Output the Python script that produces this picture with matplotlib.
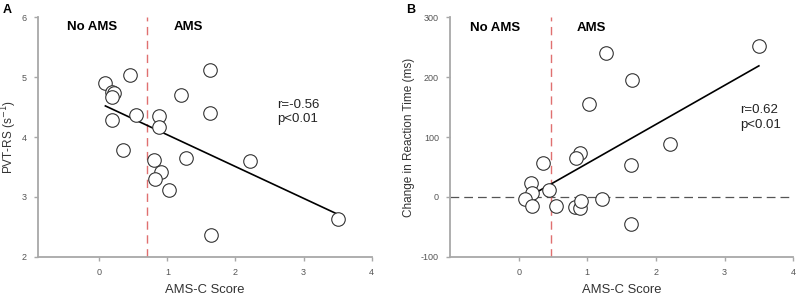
import numpy as np
import matplotlib
matplotlib.use("Agg")
import matplotlib.pyplot as plt

plt.rcParams['font.family'] = ['Liberation Sans', 'DejaVu Sans']
plt.rcParams['axes.unicode_minus'] = False

# panel A: AMS-C score vs PVT-RS
ams_a = [0.09, 0.19, 0.21, 0.19, 0.45, 0.19, 0.54, 0.35, 0.88, 0.88, 0.81,
         0.91, 0.82, 1.02, 1.20, 1.28, 1.62, 1.63, 1.64, 2.21, 3.51]
pvt = [4.90, 4.76, 4.74, 4.67, 5.03, 4.28, 4.36, 3.79, 4.35, 4.16, 3.61,
       3.42, 3.29, 3.12, 4.70, 3.65, 5.12, 4.41, 2.36, 3.60, 2.63]
fit_a_x = [0.09, 3.50]
fit_a_y = [4.52, 2.71]

# panel B: AMS-C score vs change in reaction time
ams_b = [3.50, 1.27, 1.65, 1.02, 2.20, 1.64, 0.89, 0.83, 0.36, 0.18, 0.19,
         0.44, 0.09, 0.20, 0.55, 0.82, 0.89, 0.91, 1.21, 1.63]
rt = [253, 240, 196, 155, 89, 54, 73, 65, 56, 23, 7,
      11, -4, -16, -15, -17, -19, -7, -3, -45]
fit_b_x = [0.22, 3.50]
fit_b_y = [5, 219]

spine_c = '#a8a8a8'
txt_c = '#555555'

fig = plt.figure(figsize=(8, 2.95), dpi=100)
axA = fig.add_axes([0.0475, 0.13, 0.417, 0.811])
axB = fig.add_axes([0.5625, 0.13, 0.429, 0.811])


def style(ax):
    for s in ['top', 'right']:
        ax.spines[s].set_visible(False)
    for s in ['left', 'bottom']:
        ax.spines[s].set_color(spine_c)
        ax.spines[s].set_linewidth(1.3)
    ax.tick_params(direction='out', length=3, width=1, color=spine_c,
                   labelsize=6.5, labelcolor=txt_c, pad=5)
    ax.set_xlabel('AMS-C Score', fontsize=9.4, color='#333333', labelpad=5)


# A
axA.axvline(0.70, color='#e07070', ls=(0, (6, 4)), lw=1)
axA.plot(fit_a_x, fit_a_y, color='black', lw=1.2)
axA.scatter(ams_a, pvt, s=95, facecolors='white', edgecolors='#333333',
            linewidths=0.8, zorder=3)
axA.set_xlim(-0.9, 4)
axA.set_ylim(2, 6)
axA.set_xticks([0, 1, 2, 3, 4])
axA.set_yticks([2, 3, 4, 5, 6])
axA.set_ylabel('PVT-RS (s$^{-1}$)', fontsize=8.5, color='#333333', labelpad=2)
axA.text(-0.11, 5.84, 'No AMS', fontsize=9.5, fontweight='bold', ha='center', va='center')
axA.text(1.31, 5.84, 'AMS', fontsize=9.5, fontweight='bold', ha='center', va='center')
axA.text(2.61, 4.53, 'r=-0.56', fontsize=9.5, va='center', color='#222222')
axA.text(2.61, 4.30, 'p<0.01', fontsize=9.5, va='center', color='#222222')
style(axA)

# B
axB.axhline(0, color='#555555', ls=(0, (7, 4)), lw=0.9)
axB.axvline(0.47, color='#e07070', ls=(0, (6, 4)), lw=1)
axB.plot(fit_b_x, fit_b_y, color='black', lw=1.2)
axB.scatter(ams_b, rt, s=95, facecolors='white', edgecolors='#333333',
            linewidths=0.8, zorder=3)
axB.set_xlim(-1.0, 4)
axB.set_ylim(-100, 300)
axB.set_xticks([0, 1, 2, 3, 4])
axB.set_yticks([-100, 0, 100, 200, 300])
axB.set_ylabel('Change in Reaction Time (ms)', fontsize=8.5, color='#333333')
axB.text(-0.35, 282, 'No AMS', fontsize=9.5, fontweight='bold', ha='center', va='center')
axB.text(1.06, 282, 'AMS', fontsize=9.5, fontweight='bold', ha='center', va='center')
axB.text(3.23, 145, 'r=0.62', fontsize=9.5, va='center', color='#222222')
axB.text(3.23, 120, 'p<0.01', fontsize=9.5, va='center', color='#222222')
style(axB)

fig.text(0.003, 0.965, 'A', fontsize=9, fontweight='bold', va='center')
fig.text(0.508, 0.965, 'B', fontsize=9, fontweight='bold', va='center')

fig.savefig('out.png', dpi=100)
